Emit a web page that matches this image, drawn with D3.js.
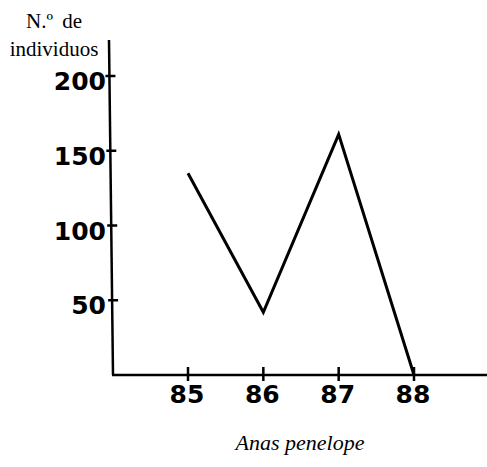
<!DOCTYPE html>
<html>
<head>
<meta charset="utf-8">
<script src="https://cdn.jsdelivr.net/npm/d3@7"></script>
<style>
body { margin:0; background:#fff; }
svg { display:block; }
</style>
</head>
<body>
<script>
var years = [85, 86, 87, 88];
var counts = [135, 42, 161, 0];
var yTicks = [50, 100, 150, 200];

var width = 487, height = 467;
var svg = d3.select("body").append("svg").attr("width", width).attr("height", height);

var x = d3.scaleLinear().domain([85, 88]).range([188, 414]);
var y = d3.scaleLinear().domain([0, 200]).range([375, 76]);

// axes lines (the y axis leans a little, as in the print)
svg.append("line").attr("x1", 109).attr("x2", 113).attr("y1", 40).attr("y2", 375)
  .attr("stroke", "#000").attr("stroke-width", 2.5);
svg.append("line").attr("x1", 112).attr("x2", 487).attr("y1", 375).attr("y2", 375)
  .attr("stroke", "#000").attr("stroke-width", 2.5);

// y ticks
var yg = svg.append("g");
yg.selectAll("line").data(yTicks).enter().append("line")
  .attr("x1", function(d){ return 109 - (375 - y(d)) * 0.012; })
  .attr("x2", function(d){ return 119 - (375 - y(d)) * 0.012; })
  .attr("y1", function(d){ return y(d); }).attr("y2", function(d){ return y(d); })
  .attr("stroke", "#000").attr("stroke-width", 2.5);
yg.selectAll("text").data(yTicks).enter().append("text")
  .attr("x", 106).attr("y", function(d){ return y(d) + 14; })
  .attr("text-anchor", "end")
  .attr("font-family", "DejaVu Sans, sans-serif")
  .attr("font-weight", "bold").attr("font-size", 25)
  .text(function(d){ return d; });

// x ticks
var xg = svg.append("g");
xg.selectAll("line").data(years).enter().append("line")
  .attr("x1", function(d){ return x(d); }).attr("x2", function(d){ return x(d); })
  .attr("y1", 367).attr("y2", 381)
  .attr("stroke", "#000").attr("stroke-width", 2.5);
xg.selectAll("text").data(years).enter().append("text")
  .attr("x", function(d){ return x(d) - 1; }).attr("y", 403)
  .attr("text-anchor", "middle")
  .attr("font-family", "DejaVu Sans, sans-serif")
  .attr("font-weight", "bold").attr("font-size", 25)
  .text(function(d){ return d; });

// data line
var line = d3.line()
  .x(function(d, i){ return x(years[i]); })
  .y(function(d){ return y(d); });
svg.append("path")
  .attr("fill", "none").attr("stroke", "#000").attr("stroke-width", 3)
  .attr("d", line(counts));

// labels
svg.append("text").attr("x", 54).attr("y", 28).attr("text-anchor", "middle")
  .attr("font-family", "Liberation Serif, Times New Roman, serif").attr("font-size", 21)
  .attr("word-spacing", 4)
  .text("N.º de");
svg.append("text").attr("x", 54).attr("y", 56).attr("text-anchor", "middle")
  .attr("font-family", "Liberation Serif, Times New Roman, serif").attr("font-size", 21)
  .text("individuos");
svg.append("text").attr("x", 300).attr("y", 450).attr("text-anchor", "middle")
  .attr("font-family", "Liberation Serif, Times New Roman, serif").attr("font-size", 22)
  .attr("font-style", "italic")
  .text("Anas penelope");
</script>
</body>
</html>
